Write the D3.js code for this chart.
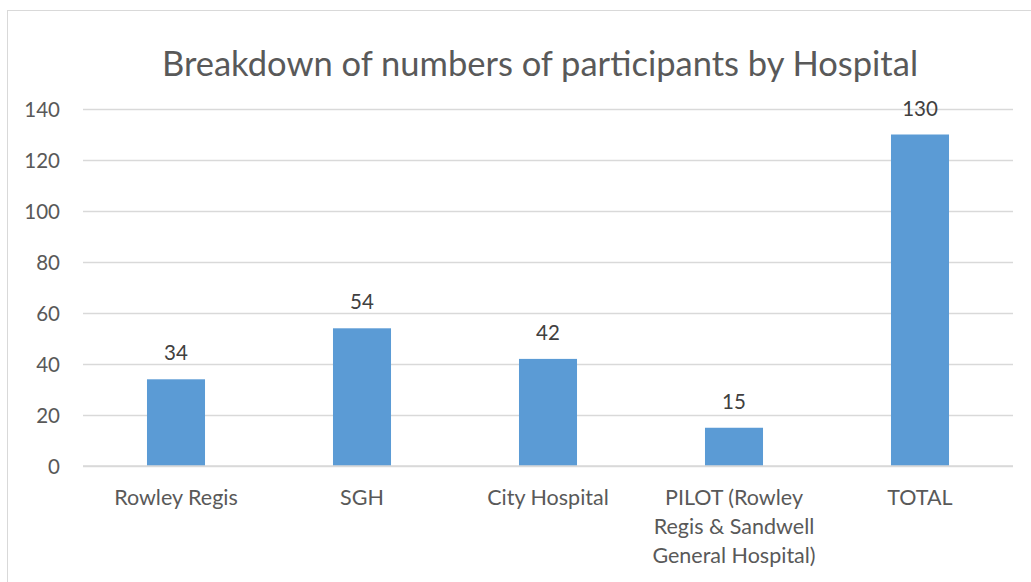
<!DOCTYPE html>
<html><head><meta charset="utf-8">
<script src="https://cdn.jsdelivr.net/npm/d3@7"></script>
<style>
html,body{margin:0;padding:0;background:#fff;}
svg{display:block;font-family:Lato,"Open Sans",sans-serif;}
</style></head>
<body>
<svg id="c" width="1031" height="582"></svg>
<script>
const categories = ["Rowley Regis", "SGH", "City Hospital", "PILOT (Rowley Regis & Sandwell General Hospital)", "TOTAL"];
const labelLines = [["Rowley Regis"], ["SGH"], ["City Hospital"], ["PILOT (Rowley", "Regis & Sandwell", "General Hospital)"], ["TOTAL"]];
const values = [34, 54, 42, 15, 130];
const yTicks = [0, 20, 40, 60, 80, 100, 120, 140];
const title = "Breakdown of numbers of participants by Hospital";

const svg = d3.select("#c");
const W = 1031, H = 582;
const m = {left: 83, right: 18, top: 109, bottom: 116};
const FS = 20.5;

// chart border
svg.append("rect").attr("x", 7.5).attr("y", 10.5).attr("width", W + 20).attr("height", H + 20)
  .attr("fill", "#fff").attr("stroke", "#d9d9d9").attr("stroke-width", 1);

const x = d3.scaleBand().domain(categories).range([m.left, W - m.right]).paddingInner(0.688).paddingOuter(0.344);
const y = d3.scaleLinear().domain([0, 140]).range([H - m.bottom, m.top]);

// gridlines
const yAxis = d3.axisLeft(y).tickValues(yTicks).tickSize(-(W - m.right - m.left)).tickPadding(23);
const gy = svg.append("g").attr("transform", `translate(${m.left},0)`).call(yAxis);
gy.select(".domain").remove();
gy.selectAll(".tick line").attr("stroke", "#d9d9d9").attr("stroke-width", 1.3);
gy.selectAll(".tick text").attr("fill", "#595959").attr("font-size", FS).attr("font-family", "Lato,sans-serif").attr("dy", "0.36em");

// bars
svg.append("g").selectAll("rect").data(values).join("rect")
  .attr("x", (d, i) => x(categories[i]))
  .attr("y", d => y(d))
  .attr("width", x.bandwidth())
  .attr("height", d => y(0) - y(d))
  .attr("fill", "#5B9BD5");

// data labels
svg.append("g").selectAll("text").data(values).join("text")
  .attr("x", (d, i) => x(categories[i]) + x.bandwidth() / 2)
  .attr("y", d => y(d) - 19)
  .attr("text-anchor", "middle")
  .attr("fill", "#404040").attr("font-size", FS)
  .text(d => d);

// x axis baseline
svg.append("line").attr("x1", m.left).attr("x2", W - m.right).attr("y1", y(0)).attr("y2", y(0))
  .attr("stroke", "#d9d9d9").attr("stroke-width", 1.3);

// category labels
const xl = svg.append("g").selectAll("text").data(categories).join("text")
  .attr("text-anchor", "middle")
  .attr("fill", "#595959").attr("font-size", 21.5)
  .attr("transform", d => `translate(${x(d) + x.bandwidth() / 2},${y(0) + 39})`);
xl.each(function(d, i) {
  d3.select(this).selectAll("tspan").data(labelLines[i]).join("tspan")
    .attr("x", 0).attr("dy", (t, j) => j === 0 ? 0 : 29).text(t => t);
});

// title
svg.append("text").attr("x", 540).attr("y", 76).attr("text-anchor", "middle")
  .attr("fill", "#595959").attr("font-size", 34.5).text(title);
</script>
</body></html>
